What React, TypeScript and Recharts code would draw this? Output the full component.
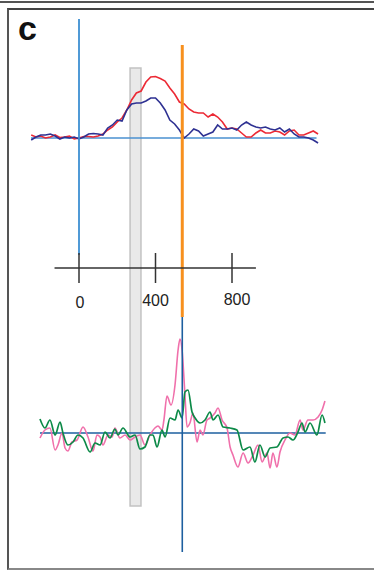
import React from "react";
import {
  ComposedChart,
  Line,
  XAxis,
  YAxis,
  ReferenceLine,
  ReferenceArea,
  ReferenceDot,
} from "recharts";

// time in ms, amplitude in arbitrary units

const topTimes = [
  -250, -225, -200, -175, -150, -125, -100, -75, -50, -25, 0, 25, 50, 75, 100, 125, 150, 175, 200, 225,
  250, 275, 300, 325, 350, 375, 400, 425, 450, 475, 500, 525, 550, 575, 600, 625, 650, 675, 700, 725,
  750, 775, 800, 825, 850, 875, 900, 925, 950, 975, 1000, 1025, 1050, 1075, 1100, 1125, 1150, 1175,
  1200, 1225, 1250,
];

const redValues = [
  0.3, 0.1, 0.2, 0, 0.1, 0.3, 0.05, 0.1, 0.2, -0.1, 0, 0.15, 0.15, 0.1, 0.2, 0.4, 0.8, 1.1, 1.6, 2.0,
  2.8, 3.8, 4.5, 4.7, 5.6, 6.1, 6.15, 5.95, 5.7, 5.0, 4.4, 3.6, 3.4, 2.9, 2.6, 2.5, 2.5, 2.1, 2.4, 2.1,
  1.6, 0.9, 1.0, 0.9, 0.5, 0.1, 0.1, 0.5, 0.8, 0.5, 0.5, 0.7, 0.6, 0.3, 0.7, 0.8, 0.3, 0.3, 0.5, 0.7,
  0.4,
];

const navyValues = [
  -0.2, 0.1, 0.3, 0.3, 0.4, 0.2, -0.1, 0.1, 0, 0.1, -0.1, 0.1, 0.4, 0.45, 0.4, 0.3, 1.0, 1.3, 1.8, 1.7,
  2.8, 3.4, 3.5, 3.5, 3.7, 4.0, 4.0, 3.5, 2.8, 1.8, 1.4, 0.8, 0, 0.4, 0.9, 0.7, 0.2, 0.4, 0.6, 1.3,
  0.9, 0.9, 1.0, 0.8, 1.3, 1.6, 1.3, 1.1, 1.0, 1.1, 0.9, 0.8, 1.0, 0.6, 0.9, 0.4, 0.1, 0.1, 0, -0.2,
  -0.5,
];

const pinkTimes = [
  -204, -178, -152, -125, -110, -89, -73, -58, -37, -10, 21, 47, 73, 94, 110, 125, 152, 173, 188, 214,
  241, 267, 293, 319, 345, 371, 397, 413, 434, 444, 460, 481, 502, 518, 528, 539, 554, 565, 580, 596,
  617, 633, 648, 669, 685, 711, 727, 748, 774, 790, 805, 831, 858, 884, 910, 936, 957, 983, 999, 1014,
  1035, 1051, 1077, 1103, 1129, 1156, 1171, 1197, 1224, 1250, 1271, 1286,
];
const pinkValues = [
  -0.5, 0.3, 0.5, -1.7, -1.2, 0, -1.5, -1.8, -0.9, -0.7, 0.6, -0.4, -1.8, -0.2, -0.4, -1.2, -0.2, -0.4,
  0.5, -0.5, -0.2, -0.7, -0.4, -0.2, -1.2, -0.2, 0.5, 0.7, 0.3, 1.3, 3.7, 2.8, 4.8, 8.3, 9.4, 8.3, 3.8,
  0.6, 1.0, 2.0, -0.9, 0.3, -0.2, 1.3, 1.5, 2.0, 2.5, 1.3, 0.5, -1.4, -2.2, -3.4, -2.0, -3.0, -2.2,
  -1.2, -2.9, -2.0, -3.5, -2.0, -3.4, -1.9, -0.7, 0, -0.2, 1.3, 0.3, 1.3, 1.3, 1.6, 2.3, 3.2,
];

const greenTimes = [
  -204, -178, -152, -125, -99, -84, -58, -31, -5, 21, 58, 84, 110, 136, 162, 188, 204, 230, 267, 293,
  319, 345, 371, 387, 408, 434, 450, 476, 502, 518, 539, 554, 570, 591, 607, 633, 659, 685, 701, 727,
  753, 790, 826, 858, 894, 920, 946, 973, 999, 1035, 1067, 1093, 1119, 1145, 1166, 1182, 1208, 1244,
  1271, 1286,
];
const greenValues = [
  1.4, 0.5, 1.3, -0.2, 1.1, 0, -1.2, -0.9, -0.2, -0.5, -1.9, -1.0, -1.2, 0.1, -0.5, 0.4, -0.2, 0.5,
  -0.4, -0.2, -1.6, -1.4, -0.2, -0.2, -1.4, 0.3, -0.4, 1.5, 1.3, 2.3, 1.5, 4.1, 4.3, 2.1, 1.5, 1.0,
  1.3, 2.1, 1.3, 1.8, 0.6, 0.5, 0.3, -1.7, -1.4, -2.9, -1.2, -2.4, -1.5, -1.4, -0.5, -0.4, -0.7, 0.1,
  1.0, 0.1, 1.0, -0.2, 1.8, 1.0,
];

const axisTicks = [0, 400, 800];
const markerTime = 540;
const windowStart = 267;
const windowEnd = 324;

const zip = (ts: number[], vs: number[]) => ts.map((t, i) => ({ t, v: vs[i] }));
const redData = zip(topTimes, redValues);
const navyData = zip(topTimes, navyValues);
const pinkData = zip(pinkTimes, pinkValues);
const greenData = zip(greenTimes, greenValues);

const W = 374;
const H = 570;
const font = "'Liberation Sans', Arial, sans-serif";

const labelNudge = [1, 0, 5];

function TickText(props: any) {
  const { viewBox, value, nudge } = props;
  const cx = viewBox.x + (viewBox.width || 0) / 2 + nudge;
  const cy = viewBox.y + (viewBox.height || 0) / 2;
  return (
    <text x={cx} y={cy} textAnchor="middle" dominantBaseline="central" fill="#222" fontSize={16} fontFamily={font}>
      {value}
    </text>
  );
}

export default function App() {
  return (
    <div style={{ position: "absolute", left: 0, top: 0, width: W, height: H, background: "#fff", overflow: "hidden" }}>
      <div style={{ position: "absolute", left: 0, top: 1, width: W, height: 2, background: "#555" }} />
      <div
        style={{
          position: "absolute",
          left: 7,
          top: 8,
          width: W - 7,
          height: H - 8,
          boxSizing: "border-box",
          borderTop: "2px solid #444",
          borderLeft: "2px solid #555",
          borderBottom: "2px solid #888",
        }}
      />
      <div
        style={{
          position: "absolute",
          left: 18,
          top: 11,
          fontFamily: font,
          fontWeight: 700,
          fontSize: 34,
          lineHeight: "34px",
          color: "#111",
        }}
      >
        c
      </div>
      <div style={{ position: "absolute", left: 0, top: 0 }}>
        <ComposedChart width={W} height={H} margin={{ top: 0, right: 0, bottom: 0, left: 0 }}>
          <XAxis type="number" dataKey="t" domain={[-413.1, 1542.5]} allowDataOverflow hide />
          <YAxis yAxisId="top" type="number" domain={[-43.2, 13.8]} allowDataOverflow hide />
          <YAxis yAxisId="bottom" type="number" domain={[-13.7, 43.3]} allowDataOverflow hide />

          <ReferenceArea
            yAxisId="top"
            x1={windowStart}
            x2={windowEnd}
            y1={-36.8}
            y2={7.0}
            fill="#e9e9e9"
            fillOpacity={1}
            stroke="#c2c2c2"
            strokeWidth={1.5}
          />

          <ReferenceLine
            yAxisId="top"
            segment={[{ x: -251, y: 0 }, { x: 1242, y: 0 }]}
            stroke="#4a90d0"
            strokeWidth={1.6}
          />
          <ReferenceLine
            yAxisId="bottom"
            segment={[{ x: -204, y: 0 }, { x: 1290, y: 0 }]}
            stroke="#1d5f9f"
            strokeWidth={1.6}
          />

          <Line yAxisId="top" data={redData} dataKey="v" type="linear" stroke="#ec2a35" strokeWidth={1.6} dot={false} activeDot={false} isAnimationActive={false} />
          <Line yAxisId="top" data={navyData} dataKey="v" type="linear" stroke="#2e3192" strokeWidth={1.6} dot={false} activeDot={false} isAnimationActive={false} />
          <Line yAxisId="bottom" data={pinkData} dataKey="v" type="monotone" stroke="#f070ab" strokeWidth={1.6} dot={false} activeDot={false} isAnimationActive={false} />
          <Line yAxisId="bottom" data={greenData} dataKey="v" type="monotone" stroke="#0d8a48" strokeWidth={1.7} dot={false} activeDot={false} isAnimationActive={false} />

          <ReferenceLine
            yAxisId="top"
            segment={[{ x: 0, y: 11.9 }, { x: 0, y: -11.7 }]}
            stroke="#3d8fd2"
            strokeWidth={1.8}
          />
          <ReferenceLine
            yAxisId="top"
            segment={[{ x: markerTime, y: 9.3 }, { x: markerTime, y: -17.9 }]}
            stroke="#f7901e"
            strokeWidth={3}
          />
          <ReferenceLine
            yAxisId="bottom"
            segment={[{ x: markerTime, y: 11.6 }, { x: markerTime, y: -11.9 }]}
            stroke="#1d5f9f"
            strokeWidth={1.6}
          />

          <ReferenceLine
            yAxisId="top"
            segment={[{ x: -128, y: -13.0 }, { x: 925, y: -13.0 }]}
            stroke="#333"
            strokeWidth={1.5}
          />
          {axisTicks.map((tk) => (
            <ReferenceLine
              key={"tk" + tk}
              yAxisId="top"
              segment={[{ x: tk, y: -11.5 }, { x: tk, y: -14.5 }]}
              stroke="#333"
              strokeWidth={1.5}
            />
          ))}
          {axisTicks.map((tk, i) => (
            <ReferenceDot
              key={"lb" + tk}
              yAxisId="top"
              x={tk}
              y={-16.4 + i * 0.15}
              r={0}
              fill="none"
              stroke="none"
              label={<TickText value={String(tk)} nudge={labelNudge[i]} />}
            />
          ))}
        </ComposedChart>
      </div>
    </div>
  );
}
